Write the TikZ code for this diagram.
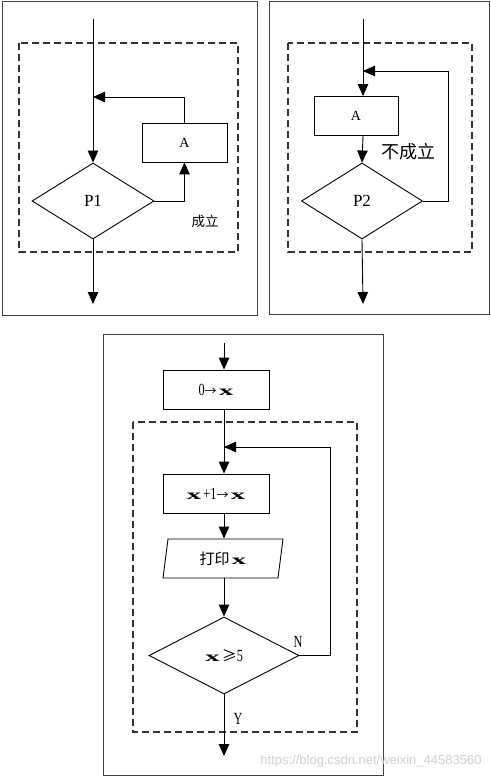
\documentclass[tikz,border=0pt]{standalone}
\usepackage{fontspec}
\setmainfont{Liberation Serif}
\newfontfamily\cjk{Noto Sans CJK SC}
\newfontfamily\wmfont{Liberation Sans}
\usetikzlibrary{arrows.meta,shapes.geometric,calc}
\newcommand{\bx}{\scalebox{2.1}[1]{\fontsize{14}{14}\selectfont\bfseries x}}
\newcommand{\nd}[1]{\scalebox{0.72}[1]{\fontsize{17}{17}\selectfont #1}}
\newcommand{\ar}{{\cjk\fontsize{12}{12}\selectfont →}}
\begin{document}
\begin{tikzpicture}[x=1pt,y=-1pt,
  line width=0.9pt,
  every node/.style={font=\fontsize{13}{13}\selectfont, inner sep=0pt},
  frame/.style={draw=black!75, line width=1pt},
  dbox/.style={draw=black!80, line width=1.2pt, dash pattern=on 7pt off 4pt},
  procbox/.style={draw, rectangle, minimum height=39pt},
  decision/.style={draw, diamond, inner sep=0pt},
  iobox/.style={draw, trapezium, trapezium left angle=70, trapezium right angle=110,
     trapezium stretches body, minimum width=120pt, minimum height=39pt},
  arr/.style={-{Triangle[length=12pt,width=10.5pt]}},
  lbl/.style={font=\cjk\fontsize{13.5}{13.5}\selectfont}
]
\useasboundingbox (0,0) rectangle (490,778);
\fill[white] (0,0) rectangle (490,778);

% ---------- panel 1 ----------
\draw[frame] (2,2) rectangle (257,315);
\draw[dbox] (19,43) rectangle (238,252);
\coordinate (s1) at (93,19);
\coordinate (j1) at (93,97);
\coordinate (e1) at (93,304);
\node[decision, minimum width=122pt, minimum height=76pt, font=\fontsize{17}{17}\selectfont] (P1) at (93,201) {P1};
\node[procbox, minimum width=85pt, font=\fontsize{14}{14}\selectfont] (A1) at (184.5,142.5) {A};
\draw[arr] (s1) -- (P1.north);
\draw[arr] (A1.north) |- (j1);
\draw[arr] (P1.east) -| (A1.south);
\draw[arr] (P1.south) -- (e1);
\node[lbl] (c1) at (205,221) {成立};

% ---------- panel 2 ----------
\draw[frame] (269,2) rectangle (489,314);
\draw[dbox] (288,43) rectangle (472,252);
\coordinate (s2) at (363,19);
\coordinate (j2) at (363,71);
\coordinate (r2) at (448,71);
\coordinate (e2) at (363,304);
\node[procbox, minimum width=84pt, font=\fontsize{14}{14}\selectfont] (A2) at (356,116) {A};
\node[decision, minimum width=121pt, minimum height=76pt, font=\fontsize{17}{17}\selectfont] (P2) at (362,201) {P2};
\draw (s2) -- (j2);
\draw[arr] (j2) -- (j2 |- A2.north);
\draw[arr] (j2 |- A2.south) -- (P2.north);
\draw[arr] (P2.east) -| (r2) -- (j2);
\draw[arr] (P2.south) -- (e2);
\node[lbl, font=\cjk\fontsize{18}{18}\selectfont] (c2) at (408,152) {不成立};

% ---------- panel 3 ----------
\draw[frame] (103,334) rectangle (383,775);
\draw[dbox] (133,422) rectangle (357,732);
\coordinate (s3) at (224,343);
\coordinate (j3) at (224,447);
\coordinate (r3) at (330,447);
\coordinate (e3) at (224,756);
\node[procbox, minimum width=106pt] (R1) at (216,389.5) {\nd{0}\ar\,\bx};
\node[procbox, minimum width=106pt] (R2) at (216,493.5) {\bx\,\nd{+1}\ar\,\bx};
\node[iobox] (IO) at (223,558.5) {{\cjk\fontsize{15}{15}\selectfont 打印}\,\bx};
\node[decision, minimum width=150pt, minimum height=77pt] (D3) at (224,655.5) {\bx\,{\cjk\fontsize{15}{15}\selectfont ≥}\nd{5}};
\draw[arr] (s3) -- (s3 |- R1.north);
\draw (s3 |- R1.south) -- (j3);
\draw[arr] (j3) -- (j3 |- R2.north);
\draw[arr] (j3 |- R2.south) -- (j3 |- IO.north);
\draw[arr] (j3 |- IO.south) -- (D3.north);
\draw[arr] (D3.east) -| (r3) -- (j3);
\draw[arr] (D3.south) -- (e3);
\node (N) at (298,642) {\nd{N}};
\node (Y) at (238,719) {\nd{Y}};

% watermark
\node[font=\wmfont\fontsize{13}{13}\selectfont, text=black!18, anchor=east] (wm) at (482,761) {https://blog.csdn.net/weixin\_44583560};
\end{tikzpicture}
\end{document}
